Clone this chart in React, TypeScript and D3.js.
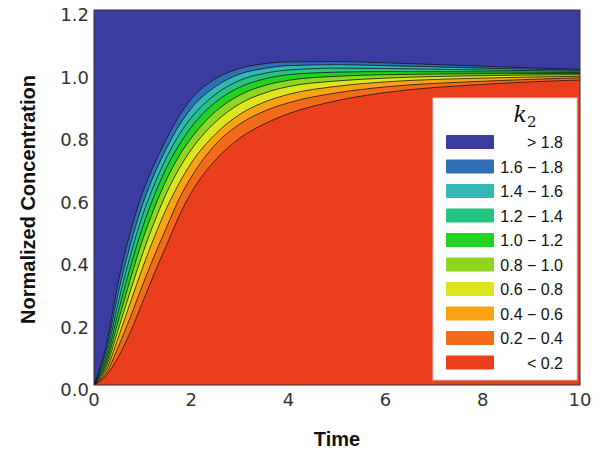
import React from 'react';
import * as d3 from 'd3';

// time grid shared by every boundary curve
const times = [0, 0.25, 0.5, 0.75, 1, 1.25, 1.5, 1.75, 2, 2.5, 3, 3.5, 4, 5, 6, 8, 10];

// boundary curves (k2 = 1.8 down to 0.2)
const k2_18 = [0, 0.125, 0.33, 0.49, 0.615, 0.71, 0.79, 0.86, 0.915, 0.98, 1.013, 1.028, 1.034, 1.035, 1.031, 1.02, 1.01];
const k2_16 = [0, 0.11, 0.295, 0.45, 0.578, 0.678, 0.76, 0.83, 0.885, 0.955, 0.995, 1.013, 1.022, 1.025, 1.022, 1.014, 1.007];
const k2_14 = [0, 0.095, 0.265, 0.415, 0.543, 0.645, 0.73, 0.8, 0.855, 0.93, 0.975, 0.997, 1.008, 1.014, 1.013, 1.008, 1.004];
const k2_12 = [0, 0.08, 0.235, 0.378, 0.505, 0.61, 0.698, 0.768, 0.825, 0.905, 0.953, 0.979, 0.993, 1.001, 1.003, 1.002, 1.0];
const k2_10 = [0, 0.068, 0.205, 0.34, 0.465, 0.57, 0.66, 0.733, 0.79, 0.875, 0.928, 0.958, 0.975, 0.988, 0.993, 0.996, 0.997];
const k2_08 = [0, 0.058, 0.178, 0.302, 0.42, 0.525, 0.617, 0.692, 0.753, 0.842, 0.9, 0.934, 0.955, 0.973, 0.982, 0.99, 0.993];
const k2_06 = [0, 0.048, 0.152, 0.265, 0.375, 0.477, 0.568, 0.645, 0.71, 0.803, 0.866, 0.905, 0.93, 0.956, 0.97, 0.982, 0.988];
const k2_04 = [0, 0.038, 0.122, 0.218, 0.32, 0.417, 0.507, 0.595, 0.665, 0.77, 0.835, 0.876, 0.903, 0.935, 0.954, 0.972, 0.983];
const k2_02 = [0, 0.03, 0.09, 0.17, 0.265, 0.36, 0.45, 0.54, 0.615, 0.72, 0.79, 0.835, 0.868, 0.91, 0.936, 0.962, 0.976];

const boundaries = [k2_18, k2_16, k2_14, k2_12, k2_10, k2_08, k2_06, k2_04, k2_02];

const bandLabels = ['> 1.8', '1.6 \u2212 1.8', '1.4 \u2212 1.6', '1.2 \u2212 1.4', '1.0 \u2212 1.2',
  '0.8 \u2212 1.0', '0.6 \u2212 0.8', '0.4 \u2212 0.6', '0.2 \u2212 0.4', '< 0.2'];
const bandColors = ['#3b3c9f', '#2f6fb4', '#2fb8b4', '#25c482', '#22d322',
  '#8ed620', '#dde51c', '#fba214', '#f26a1a', '#ea3e1c'];

const xTicks = [0, 2, 4, 6, 8, 10];
const yTicks = [0.0, 0.2, 0.4, 0.6, 0.8, 1.0, 1.2];

export default function App() {
  const width = 611;
  const height = 452;
  const plot = { left: 94, right: 580, top: 10, bottom: 385 };

  const x = d3.scaleLinear().domain([0, 10]).range([plot.left, plot.right]);
  const y = d3.scaleLinear().domain([0, 1.2]).range([plot.bottom, plot.top]);

  const area = d3.area<number>()
    .x((_, i) => x(times[i]))
    .y0(y(0))
    .y1(d => y(d))
    .curve(d3.curveMonotoneX);

  const line = d3.line<number>()
    .x((_, i) => x(times[i]))
    .y(d => y(d))
    .curve(d3.curveMonotoneX);

  const legend = { x: 433, y: 98, w: 144, h: 282 };
  const rowY = (i: number) => 142 + i * 24.5;

  return (
    <svg width={width} height={height} style={{ position: 'absolute', left: 0, top: 0, background: '#fff' }}>
      <defs>
        <clipPath id="plotClip">
          <rect x={plot.left} y={plot.top} width={plot.right - plot.left} height={plot.bottom - plot.top} />
        </clipPath>
      </defs>

      <g clipPath="url(#plotClip)">
        <rect x={plot.left} y={plot.top} width={plot.right - plot.left} height={plot.bottom - plot.top} fill={bandColors[0]} />
        {boundaries.map((b, i) => (
          <path key={'a' + i} d={area(b) || ''} fill={bandColors[i + 1]} />
        ))}
        {boundaries.map((b, i) => (
          <path key={'l' + i} d={line(b) || ''} fill="none" stroke="#111" strokeWidth={0.9} strokeOpacity={0.85} />
        ))}
      </g>

      <rect x={plot.left} y={plot.top} width={plot.right - plot.left} height={plot.bottom - plot.top}
        fill="none" stroke="#333" strokeWidth={1} />

      {xTicks.map(t => (
        <text key={'x' + t} x={x(t)} y={plot.bottom + 21} textAnchor="middle"
          fontFamily="DejaVu Sans" fontSize={18} fill="#333">{t}</text>
      ))}
      {yTicks.map(t => (
        <text key={'y' + t} x={plot.left - 5} y={y(t) + 11} textAnchor="end"
          fontFamily="DejaVu Sans" fontSize={18} fill="#333">{t.toFixed(1)}</text>
      ))}

      <text x={(plot.left + plot.right) / 2} y={446} textAnchor="middle"
        fontFamily="Liberation Sans" fontWeight="bold" fontSize={20} fill="#111">Time</text>
      <text transform={`translate(35,${(plot.top + plot.bottom) / 2 + 2}) rotate(-90)`} textAnchor="middle"
        fontFamily="Liberation Sans" fontWeight="bold" fontSize={20} fill="#111">Normalized Concentration</text>

      <rect x={legend.x} y={legend.y} width={legend.w} height={legend.h} fill="#fff" stroke="#ccc" strokeWidth={1} />
      <text x={525} y={122} textAnchor="middle" fontFamily="DejaVu Serif" fontStyle="italic" fontSize={22} fill="#111">
        k<tspan fontStyle="normal" fontSize={15} dy={5}>2</tspan>
      </text>
      {bandLabels.map((lab, i) => (
        <g key={'lg' + i}>
          <rect x={446} y={rowY(i) - 7} width={48} height={14} fill={bandColors[i]} rx={1} />
          <text x={563} y={rowY(i) + 6} textAnchor="end" fontFamily="Liberation Sans" fontSize={16} fill="#111">{lab}</text>
        </g>
      ))}
    </svg>
  );
}
